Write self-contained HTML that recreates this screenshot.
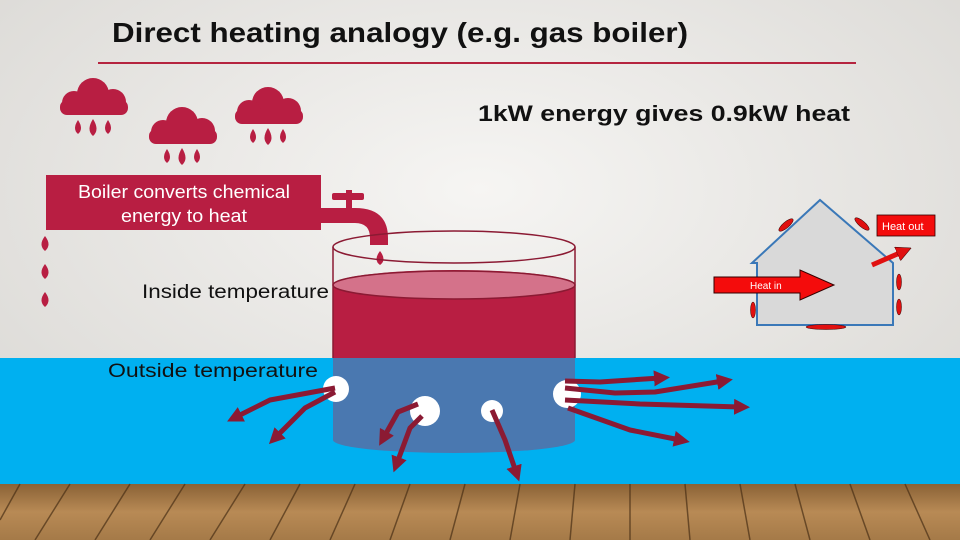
<!DOCTYPE html>
<html><head><meta charset="utf-8"><style>
body{margin:0;width:960px;height:540px;overflow:hidden;font-family:"Liberation Sans",sans-serif;}
</style></head><body>
<svg width="960" height="540" viewBox="0 0 960 540" xmlns="http://www.w3.org/2000/svg">
<defs>
<radialGradient id="bg" cx="0.5" cy="0.35" r="0.8">
<stop offset="0" stop-color="#f6f5f3"/><stop offset="1" stop-color="#d6d4d0"/>
</radialGradient>
<linearGradient id="floor" x1="0" y1="0" x2="0" y2="1">
<stop offset="0" stop-color="#8a6236"/><stop offset="0.5" stop-color="#b88a55"/><stop offset="1" stop-color="#a57a48"/>
</linearGradient>
<marker id="ah" markerWidth="3.2" markerHeight="3.2" refX="1.2" refY="1.6" orient="auto" markerUnits="strokeWidth">
<path d="M0,0 L3.2,1.6 L0,3.2 z" fill="#8b1a33"/></marker>
<marker id="rh" markerWidth="3" markerHeight="3" refX="1" refY="1.5" orient="auto" markerUnits="strokeWidth">
<path d="M0,0 L3,1.5 L0,3 z" fill="#e01010" stroke="#300" stroke-width="0.1"/></marker>
</defs>
<rect width="960" height="540" fill="url(#bg)"/>
<rect y="358" width="960" height="126" fill="#00b0f0"/>
<rect y="484" width="960" height="56" fill="url(#floor)"/>
<g stroke="#4a3016" stroke-width="1.5" opacity="0.7">
<line x1="20" y1="484" x2="0" y2="520"/><line x1="70" y1="484" x2="35" y2="540"/><line x1="130" y1="484" x2="95" y2="540"/><line x1="185" y1="484" x2="150" y2="540"/><line x1="245" y1="484" x2="210" y2="540"/><line x1="300" y1="484" x2="270" y2="540"/><line x1="355" y1="484" x2="330" y2="540"/><line x1="410" y1="484" x2="390" y2="540"/><line x1="465" y1="484" x2="450" y2="540"/><line x1="520" y1="484" x2="510" y2="540"/><line x1="575" y1="484" x2="570" y2="540"/><line x1="630" y1="484" x2="630" y2="540"/><line x1="685" y1="484" x2="690" y2="540"/><line x1="740" y1="484" x2="750" y2="540"/><line x1="795" y1="484" x2="810" y2="540"/><line x1="850" y1="484" x2="870" y2="540"/><line x1="905" y1="484" x2="930" y2="540"/>
</g>
<text x="112" y="42" font-size="28" font-weight="bold" fill="#111" textLength="576" lengthAdjust="spacingAndGlyphs">Direct heating analogy (e.g. gas boiler)</text>
<line x1="98" y1="63" x2="856" y2="63" stroke="#b5243f" stroke-width="2"/>
<text x="478" y="121" font-size="22" font-weight="bold" fill="#111" textLength="372" lengthAdjust="spacingAndGlyphs">1kW energy gives 0.9kW heat</text>
<!-- clouds -->
<g fill="#b81e42">
<g id="c1"><circle cx="93" cy="94" r="16"/><circle cx="74" cy="103" r="12"/><circle cx="113" cy="102" r="13"/><rect x="60" y="100" width="68" height="15" rx="7"/>
<path d="M78,120 q-6,9 0,14 q6,-5 0,-14z"/><path d="M93,119 q-7,11 0,17 q7,-6 0,-17z"/><path d="M108,120 q-6,9 0,14 q6,-5 0,-14z"/></g>
<use href="#c1" x="89" y="29"/><use href="#c1" x="175" y="9"/>
<path d="M45,236 q-7,9 0,15 q7,-6 0,-15z"/><path d="M45,264 q-7,9 0,15 q7,-6 0,-15z"/><path d="M45,292 q-7,9 0,15 q7,-6 0,-15z"/>
<rect x="46" y="175" width="275" height="55"/>
<rect x="300" y="208" width="50" height="15"/>
<path d="M345,208 h10 q33,0 33,30 v7 h-18 v-7 q0,-15 -15,-15 h-10z"/>
<rect x="346" y="190" width="6" height="20"/><rect x="332" y="193" width="32" height="7" rx="2"/>
<path d="M380,251 q-7,9 0,14 q7,-5 0,-14z"/>
</g>
<text x="184" y="198" font-size="18" fill="#fff" text-anchor="middle" textLength="212" lengthAdjust="spacingAndGlyphs">Boiler converts chemical</text>
<text x="184" y="222" font-size="18" fill="#fff" text-anchor="middle" textLength="126" lengthAdjust="spacingAndGlyphs">energy to heat</text>
<text x="142" y="298" font-size="19" fill="#111" textLength="187" lengthAdjust="spacingAndGlyphs">Inside temperature</text>
<!-- tank -->
<path d="M333,285 A121,15 0 0 1 575,285 V358 H333z" fill="#b81e42"/>
<path d="M333,358 H575 V440 A121,13 0 0 1 333,440z" fill="#4a78b0"/>
<ellipse cx="454" cy="285" rx="121" ry="14" fill="#d4728a" stroke="#8b1a33" stroke-width="1.5"/>
<path d="M333,247 V358 M575,247 V358" stroke="#8b1a33" stroke-width="1.5"/>
<ellipse cx="454" cy="247" rx="121" ry="16" fill="none" stroke="#8b1a33" stroke-width="1.5"/>
<text x="108" y="377" font-size="19" fill="#111" textLength="210" lengthAdjust="spacingAndGlyphs">Outside temperature</text>
<!-- holes -->
<g fill="#fff"><circle cx="336" cy="389" r="13"/><circle cx="425" cy="411" r="15"/><circle cx="492" cy="411" r="11"/><circle cx="567" cy="394" r="14"/></g>
<g stroke="#8b1a33" stroke-width="5" fill="none" marker-end="url(#ah)" stroke-linejoin="round">
<polyline points="335,388 270,400 236,417"/>
<polyline points="335,392 305,408 276,437"/>
<polyline points="418,404 398,412 384,437"/>
<polyline points="422,416 410,428 397,463"/>
<polyline points="492,410 505,440 516,472"/>
<polyline points="565,381 600,382 660,378"/>
<polyline points="565,388 615,393 655,392 723,381"/>
<polyline points="565,400 640,404 740,407"/>
<polyline points="568,408 630,430 680,440"/>
</g>
<!-- house -->
<path d="M757,325 V263 H752 L820,200 L893,263 V325z" fill="#d9d9d9" stroke="#3a78b8" stroke-width="2"/>
<g fill="#e01010" stroke="#300" stroke-width="0.5">
<ellipse cx="786" cy="225" rx="9" ry="3" transform="rotate(-40 786 225)"/>
<ellipse cx="862" cy="224" rx="9" ry="3" transform="rotate(40 862 224)"/>
<ellipse cx="899" cy="282" rx="2.5" ry="8"/><ellipse cx="899" cy="307" rx="2.5" ry="8"/>
<ellipse cx="753" cy="310" rx="2.5" ry="8"/>
<ellipse cx="826" cy="327" rx="20" ry="2.5"/>
</g>
<path d="M714,277 H800 V270 L834,285 L800,300 V293 H714z" fill="#f40c0c" stroke="#300" stroke-width="1"/>
<text x="750" y="289" font-size="10" fill="#fff">Heat in</text>
<rect x="877" y="215" width="58" height="21" fill="#f40c0c" stroke="#300" stroke-width="0.8"/>
<text x="882" y="230" font-size="11" fill="#fff">Heat out</text>
<line x1="872" y1="265" x2="902" y2="252" stroke="#e01010" stroke-width="5" marker-end="url(#rh)"/>
</svg>
</body></html>
